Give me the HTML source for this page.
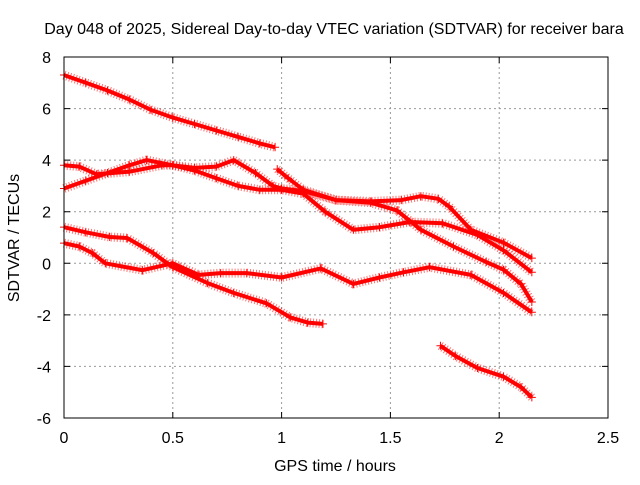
<!DOCTYPE html>
<html><head><meta charset="utf-8"><style>
body{margin:0;background:#fff}
svg text{font-family:"Liberation Sans",sans-serif;font-size:16px;fill:#000}
</style></head><body>
<svg id="chart" width="640" height="480" xmlns="http://www.w3.org/2000/svg">
<rect width="640" height="480" fill="#fff"/>
<text x="334" y="34" text-anchor="middle">Day 048 of 2025, Sidereal Day-to-day VTEC variation (SDTVAR) for receiver bara</text>
<text x="335" y="471" text-anchor="middle">GPS time / hours</text>
<text transform="translate(19,238) rotate(-90)" text-anchor="middle">SDTVAR / TECUs</text>
<g id="grid"></g><g id="series"></g><g id="axes"></g>
</svg>
<script>
const xTicks=[0,0.5,1,1.5,2,2.5];
const yTicks=[-6,-4,-2,0,2,4,6,8];
const xTickLabels=["0","0.5","1","1.5","2","2.5"];
const yTickLabels=["-6","-4","-2","0","2","4","6","8"];
const sA_t=[0,0.1,0.2,0.3,0.4,0.5,0.6,0.7,0.8,0.9,0.97];
const sA_v=[7.3,7.0,6.7,6.35,5.95,5.65,5.4,5.15,4.9,4.65,4.5];
const sB_t=[0,0.07,0.15,0.3,0.45,0.5,0.6,0.7,0.78,0.88,0.96,1.0,1.1,1.25,1.41,1.55,1.64,1.72,1.77,1.87,2.02,2.15];
const sB_v=[3.8,3.75,3.45,3.55,3.8,3.8,3.7,3.75,4.0,3.5,3.0,2.9,2.8,2.45,2.4,2.45,2.6,2.5,2.2,1.3,0.8,0.2];
const sC_t=[0,0.1,0.2,0.3,0.38,0.5,0.6,0.7,0.8,0.9,1.0,1.1,1.2,1.33,1.45,1.59,1.74,1.9,2.02,2.15];
const sC_v=[2.9,3.2,3.5,3.8,4.0,3.8,3.6,3.3,3.0,2.85,2.85,2.7,2.0,1.3,1.4,1.6,1.55,1.1,0.5,-0.35];
const sD_t=[0.98,1.03,1.1,1.25,1.41,1.53,1.64,1.79,1.94,2.02,2.1,2.15];
const sD_v=[3.65,3.3,2.85,2.45,2.35,2.05,1.3,0.65,0.05,-0.25,-0.8,-1.5];
const sE_t=[0,0.1,0.21,0.29,0.41,0.5,0.66,0.78,0.93,1.04,1.12,1.19];
const sE_v=[1.4,1.2,1.02,0.98,0.4,-0.15,-0.77,-1.15,-1.55,-2.1,-2.3,-2.35];
const sF_t=[0,0.07,0.13,0.19,0.36,0.5,0.62,0.72,0.84,1.0,1.18,1.33,1.45,1.56,1.68,1.87,2.02,2.15];
const sF_v=[0.78,0.65,0.4,0.0,-0.27,0.0,-0.45,-0.38,-0.38,-0.55,-0.2,-0.8,-0.55,-0.35,-0.15,-0.45,-1.15,-1.9];
const sG_t=[1.73,1.8,1.9,2.02,2.1,2.15];
const sG_v=[-3.2,-3.6,-4.06,-4.4,-4.8,-5.2];
const seriesList=[[sA_t,sA_v],[sB_t,sB_v],[sC_t,sC_v],[sD_t,sD_v],[sE_t,sE_v],[sF_t,sF_v],[sG_t,sG_v]];
const L=64,R=608,T=57,B=418;
const xs=h=>L+h/2.5*(R-L);
const ys=v=>T+(8-v)/14*(B-T);
const NS="http://www.w3.org/2000/svg";
const grid=document.getElementById('grid'),axes=document.getElementById('axes'),ser=document.getElementById('series');
function mk(tag,attrs,parent){const e=document.createElementNS(NS,tag);for(const k in attrs)e.setAttribute(k,attrs[k]);parent.appendChild(e);return e;}
xTicks.forEach((t,i)=>{
  const x=xs(t);
  if(t>0&&t<2.5){const g=mk('line',{x1:x,x2:x,y1:T,y2:B,stroke:'#999','stroke-dasharray':'2,3'},grid);
  
  }
  const tk=mk('path',{d:`M${x},${B}v-6M${x},${T}v6`,stroke:'#000'},axes);
  
  
  const lb=mk('text',{x:x,y:B+25,'text-anchor':'middle'},axes);lb.textContent=xTickLabels[i];
  
  
});
yTicks.forEach((t,i)=>{
  const y=ys(t);
  if(t>-6&&t<8){const g=mk('line',{x1:L,x2:R,y1:y,y2:y,stroke:'#999','stroke-dasharray':'2,3'},grid);
  
  }
  const tk=mk('path',{d:`M${L},${y}h6M${R},${y}h-6`,stroke:'#000'},axes);
  
  
  const lb=mk('text',{x:L-13,y:y+6,'text-anchor':'end'},axes);lb.textContent=yTickLabels[i];
  
  
});
const fr=mk('rect',{x:L,y:T,width:R-L,height:B-T,fill:'none',stroke:'#000'},axes);


seriesList.forEach(([ts,vs],si)=>{
  const g=mk('g',{},ser);
  
  
  const d=ts.map((t,i)=>(i?'L':'M')+xs(t).toFixed(1)+','+ys(vs[i]).toFixed(1)).join('');
  mk('path',{d:d,stroke:'#f00','stroke-width':4,fill:'none','stroke-linejoin':'round'},g);
  mk('path',{d:d,stroke:'#f00','stroke-width':9,fill:'none','stroke-dasharray':'1,2','stroke-opacity':0.55},g);
  ts.forEach((t,i)=>{
    const x=xs(t),y=ys(vs[i]);
    const m=mk('path',{d:`M${x-4},${y}h8M${x},${y-4}v8`,stroke:'#f00','stroke-width':1},g);
    
    
  });
});
</script>
</body></html>
